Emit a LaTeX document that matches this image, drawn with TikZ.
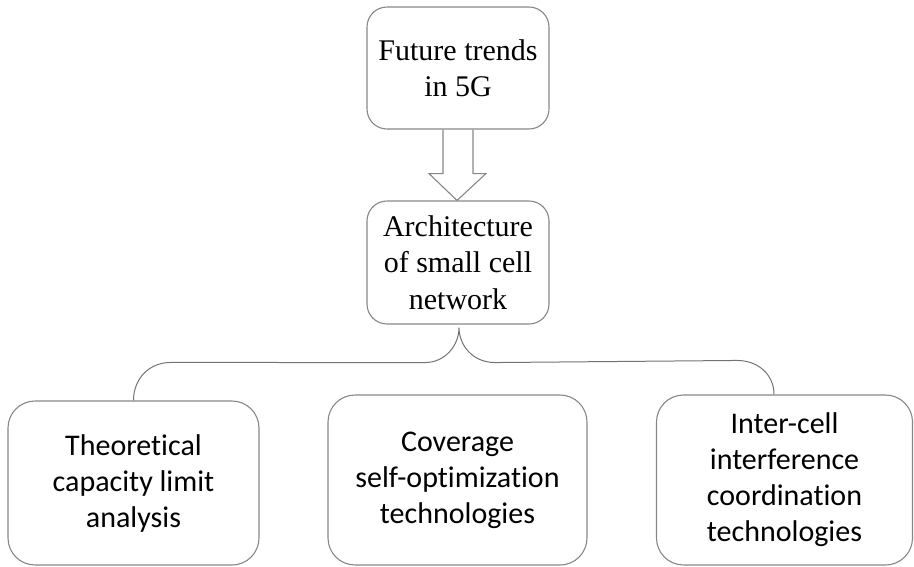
\documentclass[tikz,border=0pt]{standalone}
\usepackage{fontspec}
\setmainfont{Liberation Serif}
\newfontfamily\calibri[Ligatures=NoCommon]{Carlito}
\usetikzlibrary{calc}
\definecolor{boxgray}{RGB}{135,135,135}
\definecolor{linegray}{RGB}{115,115,115}
\tikzset{
  serifbox/.style={draw=boxgray, line width=1.1pt, rounded corners=20pt, align=center,
    inner sep=0pt, font=\fontsize{30}{36.5}\selectfont},
  sansbox/.style={draw=boxgray, line width=1.1pt, rounded corners=27pt, align=center,
    inner sep=0pt, font=\calibri\fontsize{30}{36}\selectfont},
  brace/.style={draw=linegray, line width=1pt},
  blockarrow/.style={draw=boxgray, line width=1.1pt, line join=miter}
}
\begin{document}
\begin{tikzpicture}[x=1pt,y=-1pt]
\useasboundingbox (0,0) rectangle (914,566);
\node[serifbox, minimum width=182pt, minimum height=122pt] (top) at (458,68) {Future trends\\in 5G};
\node[serifbox, minimum width=182pt, minimum height=123pt] (mid) at (458,262.5) {Architecture\\of small cell\\network};
\node[sansbox, minimum width=251pt, minimum height=164pt] (l) at (133.5,483) {Theoretical\\capacity limit\\analysis};
\node[sansbox, minimum width=259pt, minimum height=170pt] (c) at (457.5,480) {Coverage\\self-optimization\\technologies};
\node[sansbox, minimum width=256pt, minimum height=170pt] (r) at (784.5,480) {Inter-cell\\interference\\coordination\\technologies};
% block arrow
\draw[blockarrow] ($(top.south)+(-15,0)$) -- ($(top.south)+(-15,44)$) -- ($(top.south)+(-29,44)$)
  -- ($(mid.north)+(-1,0)$) -- ($(top.south)+(28,44)$) -- ($(top.south)+(15,44)$) -- ($(top.south)+(15,0)$);
% brace
\coordinate (tip) at ($(mid.south)+(1,3)$);
\coordinate (le) at (l.north);
\coordinate (re) at ($(r.north)+(-10.5,0)$);
\draw[brace] (le) .. controls ($(le)+(0,-22)$) and ($(le)+(16,-38)$) .. ($(le)+(37,-38)$)
  -- ($(tip)+(-34,35)$) .. controls ($(tip)+(-14,35)$) and ($(tip)+(0,18)$) .. (tip)
  .. controls ($(tip)+(0,18)$) and ($(tip)+(14,35)$) .. ($(tip)+(36,35)$)
  -- ($(re)+(-37,-34)$) .. controls ($(re)+(-16,-34)$) and ($(re)+(0,-20)$) .. (re);
\end{tikzpicture}
\end{document}
